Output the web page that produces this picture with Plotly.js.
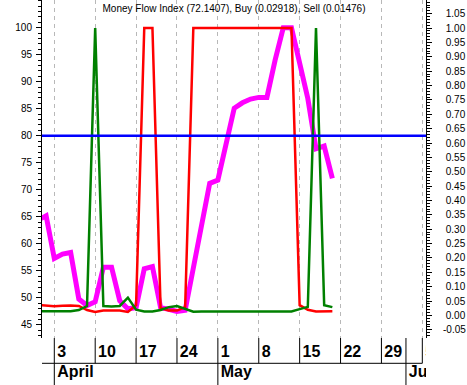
<!DOCTYPE html>
<html><head><meta charset="utf-8">
<script src="https://cdn.plot.ly/plotly-3.0.1.min.js"></script>
<style>html,body{margin:0;padding:0;background:#fff;overflow:hidden}#chart{width:467px;height:385px}</style>
</head><body><div id="chart"></div>
<script>
// ---------- data ----------
const tradingDates = ['2006-03-30','2006-03-31',
  '2006-04-03','2006-04-04','2006-04-05','2006-04-06','2006-04-07',
  '2006-04-10','2006-04-11','2006-04-12','2006-04-13','2006-04-14',
  '2006-04-17','2006-04-18','2006-04-19','2006-04-20','2006-04-21',
  '2006-04-24','2006-04-25','2006-04-26','2006-04-27','2006-04-28',
  '2006-05-01','2006-05-02','2006-05-03','2006-05-04','2006-05-05',
  '2006-05-08','2006-05-09','2006-05-10','2006-05-11','2006-05-12',
  '2006-05-15','2006-05-16','2006-05-17','2006-05-18','2006-05-19'];
const firstDayIndex = -2; // trading-day index of the first date (2006-04-03 = 0)

const mfi = [64.4, 65.2,
  57.3, 58.1, 58.4, 49.8, 48.6,
  49.3, 55.7, 55.7, 49.5, 48.0,
  48.2, 55.4, 55.8, 48.2, 47.9,
  47.5, 47.7, 55.8, 63.8, 71.2,
  71.8, 78.5, 85.1, 86.1, 86.8,
  87.1, 87.1, 94.0, 100.0, 100.0,
  93.1, 86.9, 77.6, 78.1, 72.1407];
const buy = [0.015, 0.015,
  0.015, 0.015, 0.015, 0.019, 0.033,
  1.0, 0.033, 0.031, 0.033, 0.062,
  0.020, 0.014, 0.014, 0.019, 0.029,
  0.033, 0.022, 0.013, 0.014, 0.014,
  0.014, 0.014, 0.014, 0.014, 0.014,
  0.014, 0.014, 0.014, 0.014, 0.014,
  0.022, 0.030, 1.0, 0.036, 0.02918];
const sell = [0.037, 0.034,
  0.032, 0.034, 0.035, 0.033, 0.019,
  0.012, 0.017, 0.017, 0.017, 0.012,
  0.036, 1.0, 1.0, 0.026, 0.017,
  0.017, 0.029, 1.0, 1.0, 1.0,
  1.0, 1.0, 1.0, 1.0, 1.0,
  1.0, 1.0, 1.0, 1.0, 1.0,
  0.036, 0.020, 0.014, 0.015, 0.01476];
const mfiLevel = 80;

const weekStarts = [0, 5, 10, 15, 20, 25, 30, 35, 40, 45];
const weekLabels = ['3', '10', '17', '24', '1', '8', '15', '22', '29', '5'];
const monthStarts = [0, 20, 43];
const monthLabels = ['April', 'May', 'June'];
const leftTicks = [45, 50, 55, 60, 65, 70, 75, 80, 85, 90, 95, 100];
const rightTicks = [-0.05, 0, 0.05, 0.1, 0.15, 0.2, 0.25, 0.3, 0.35, 0.4, 0.45, 0.5,
  0.55, 0.6, 0.65, 0.7, 0.75, 0.8, 0.85, 0.9, 0.95, 1.0, 1.05];
const titleText = 'Money Flow Index (72.1407), Buy (0.02918), Sell (0.01476)';

// ---------- drawing ----------
const FONT = 'Arial, "Liberation Sans", sans-serif';
const W = 467, H = 385, plotBottom = 338;
const mainFrac = 1 - plotBottom / H;
const xRange = [-1.504, 45.45];
const leftRange = [42.59, 105.12];
const rightRange = [-0.0783, 1.0974];
const band = 47;          // band height in px units
const rowLine = 21.7;     // row separator (from bottom)
const xs = tradingDates.map((d, k) => k + firstDayIndex);
const clear = 'rgba(0,0,0,0)';
// right-aligned look for right-axis labels: pad non-negative values
const rightText = rightTicks.map(v => (v < 0 ? '' : '\u2008') + v.toFixed(2));

const traces = [
  {x: xs, y: mfi, type: 'scatter', mode: 'lines', xaxis: 'x', yaxis: 'y',
   line: {color: '#ff00ff', width: 5}, hoverinfo: 'skip'},
  {x: xs, y: sell, type: 'scatter', mode: 'lines', xaxis: 'x', yaxis: 'y2',
   line: {color: '#ff0000', width: 2.5}, hoverinfo: 'skip'},
  {x: xs, y: buy, type: 'scatter', mode: 'lines', xaxis: 'x', yaxis: 'y2',
   line: {color: '#008000', width: 2.5}, hoverinfo: 'skip'},
  {x: weekStarts, y: weekStarts.map(() => 32.5), text: weekLabels, type: 'scatter', mode: 'markers+text',
   xaxis: 'x2', yaxis: 'y3', textposition: 'middle right', cliponaxis: true,
   marker: {size: 3, color: clear},
   textfont: {family: FONT, size: 16, color: '#000', weight: 'bold'}, hoverinfo: 'skip'},
  {x: monthStarts, y: monthStarts.map(() => 12.5), text: monthLabels, type: 'scatter', mode: 'markers+text',
   xaxis: 'x2', yaxis: 'y3', textposition: 'middle right', cliponaxis: true,
   marker: {size: 3, color: clear},
   textfont: {family: FONT, size: 16, color: '#000', weight: 'bold'}, hoverinfo: 'skip'},
  // empty traces that carry the minor-tick axes
  {x: [], y: [], type: 'scatter', mode: 'lines', xaxis: 'x', yaxis: 'y4', hoverinfo: 'skip'},
  {x: [], y: [], type: 'scatter', mode: 'lines', xaxis: 'x', yaxis: 'y5', hoverinfo: 'skip'}
];

const shapes = [];
const rowOneSeps = weekStarts.concat([monthStarts[2]]);
rowOneSeps.forEach(v => shapes.push({type: 'line', xref: 'x2', yref: 'y3', x0: v, x1: v, y0: rowLine, y1: band,
  line: {color: '#000', width: 1}}));
monthStarts.forEach(v => shapes.push({type: 'line', xref: 'x2', yref: 'y3', x0: v, x1: v, y0: 0, y1: rowLine,
  line: {color: '#000', width: 1}}));
shapes.push({type: 'line', xref: 'x2', yref: 'y3', x0: xRange[0], x1: weekStarts[weekStarts.length - 1],
  y0: rowLine, y1: rowLine, line: {color: '#000', width: 1}});
shapes.push({type: 'line', xref: 'paper', yref: 'y', x0: 0, x1: 1, y0: mfiLevel, y1: mfiLevel,
  line: {color: '#0000ff', width: 2.5}, layer: 'above'});

const tickFont = {family: FONT, size: 10, color: '#000'};
const layout = {
  width: W, height: H,
  margin: {l: 42, r: 41, t: 0, b: 0, pad: 0},
  paper_bgcolor: '#fff', plot_bgcolor: '#fff',
  showlegend: false,
  font: {family: FONT, size: 10, color: '#000'},
  title: {text: titleText, x: 0.5, xref: 'paper', xanchor: 'center', y: 1 - 8.5 / H, yref: 'container',
    yanchor: 'middle', font: {family: FONT, size: 10, color: '#000'}},
  xaxis: {domain: [0, 1], range: xRange, anchor: 'y', tickmode: 'array', tickvals: weekStarts,
    showticklabels: false, ticks: '', showgrid: true, gridcolor: '#b8b8b8', griddash: '4px,4px',
    gridwidth: 1, zeroline: false, showline: false, fixedrange: true},
  yaxis: {domain: [mainFrac, 1], range: leftRange, anchor: 'x', side: 'left',
    showline: true, linecolor: '#000', linewidth: 1, ticks: 'outside', ticklen: 5, tickcolor: '#000',
    tickmode: 'array', tickvals: leftTicks, showgrid: false, zeroline: false, ticklabelstandoff: 2,
    tickfont: tickFont, fixedrange: true},
  yaxis2: {overlaying: 'y', side: 'right', anchor: 'x', range: rightRange,
    showline: true, linecolor: '#000', linewidth: 1, ticks: 'outside', ticklen: 5, tickcolor: '#000',
    tickmode: 'array', tickvals: rightTicks, ticktext: rightText,
    showgrid: false, zeroline: false, ticklabelstandoff: 9,
    tickfont: tickFont, fixedrange: true},
  yaxis4: {overlaying: 'y', side: 'left', anchor: 'x', range: leftRange, tickmode: 'linear', tick0: 0, dtick: 1,
    ticks: 'outside', ticklen: 3, tickcolor: '#000', showticklabels: false, showline: false,
    showgrid: false, zeroline: false, fixedrange: true},
  yaxis5: {overlaying: 'y', side: 'right', anchor: 'x', range: rightRange, tickmode: 'linear', tick0: 0, dtick: 0.01,
    ticks: 'outside', ticklen: 3, tickcolor: '#000', showticklabels: false, showline: false,
    showgrid: false, zeroline: false, fixedrange: true},
  xaxis2: {domain: [0, 1], range: xRange, anchor: 'y3', visible: false, fixedrange: true},
  yaxis3: {domain: [0, mainFrac], range: [0, band], anchor: 'x2', visible: false, fixedrange: true},
  shapes: shapes
};

Plotly.newPlot('chart', traces, layout, {displayModeBar: false, staticPlot: true});
</script>
</body></html>
